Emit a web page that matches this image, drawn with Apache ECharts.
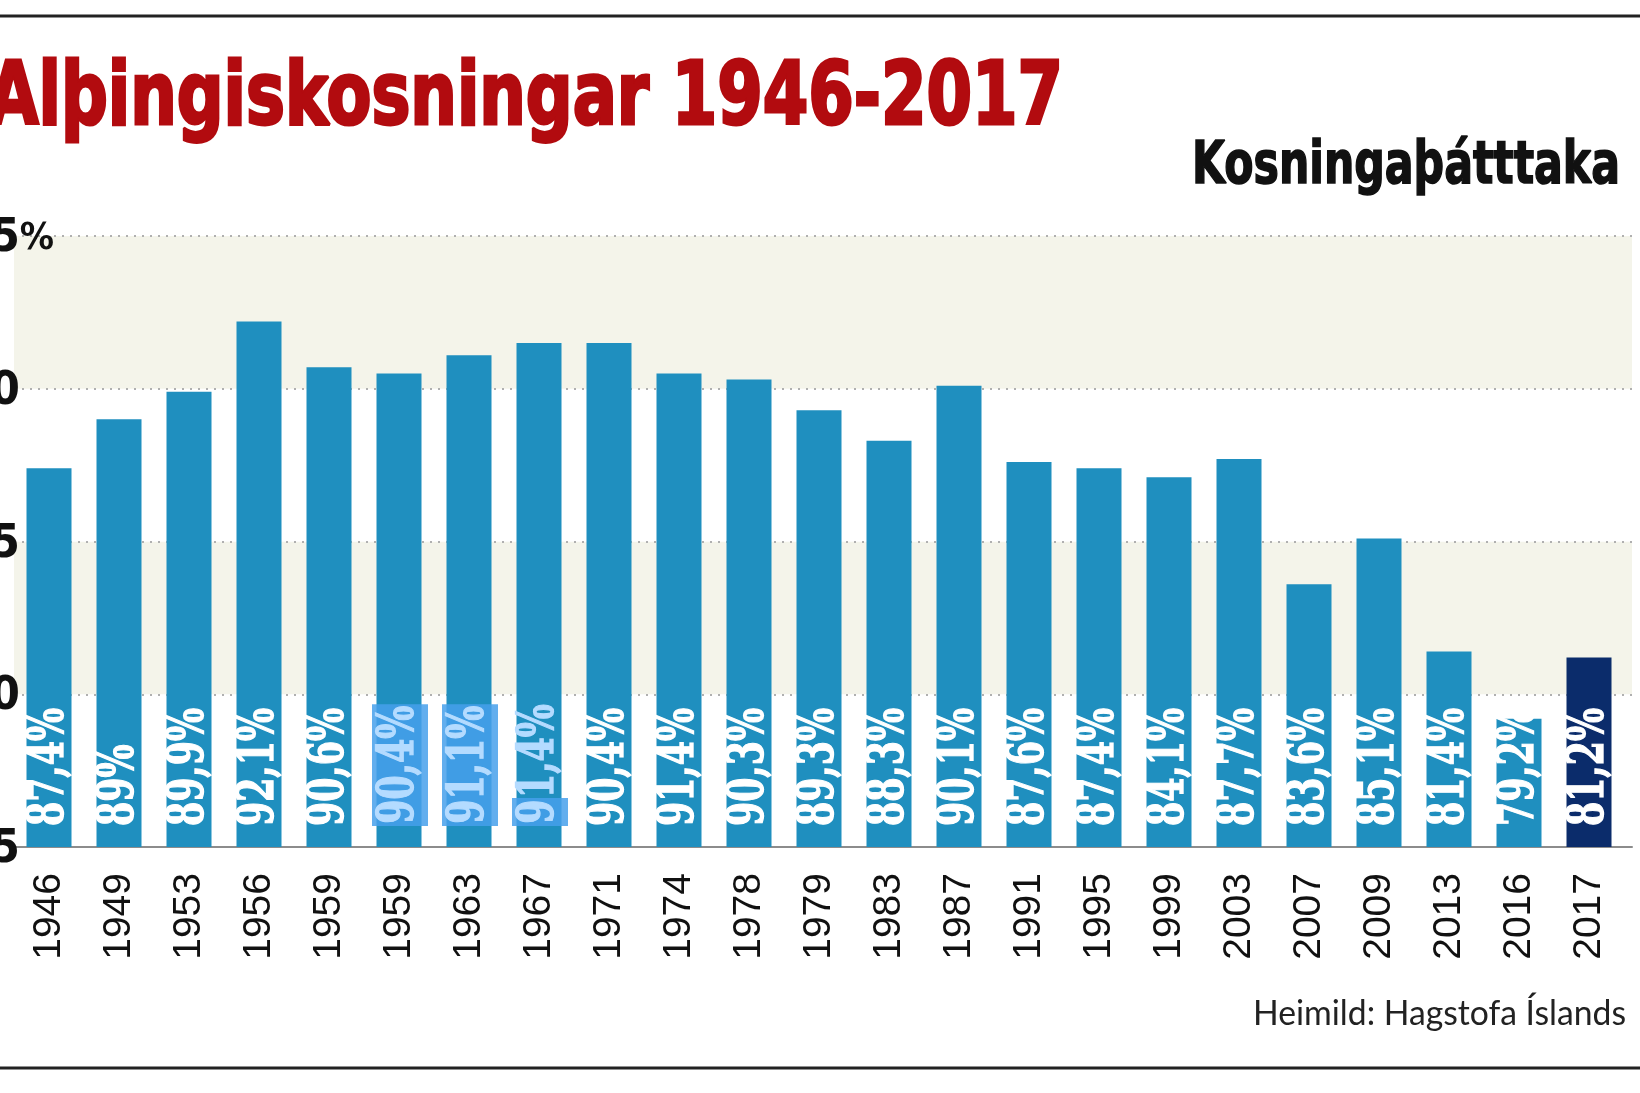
<!DOCTYPE html>
<html>
<head>
<meta charset="utf-8">
<script src="https://cdn.jsdelivr.net/npm/echarts@6/dist/echarts.min.js"></script>
<style>
html,body{margin:0;padding:0;background:#fff;}
#c{width:1640px;height:1093px;}
</style>
</head>
<body>
<div id="c"></div>
<script>
// ---- data ----
var years = ['1946','1949','1953','1956','1959','1959','1963','1967','1971','1974','1978','1979','1983','1987','1991','1995','1999','2003','2007','2009','2013','2016','2017'];
var turnout = [87.4, 89.0, 89.9, 92.2, 90.7, 90.5, 91.1, 91.5, 91.5, 90.5, 90.3, 89.3, 88.3, 90.1, 87.6, 87.4, 87.1, 87.7, 83.6, 85.1, 81.4, 79.2, 81.2];
var valueLabels = ['87,4%','89%','89,9%','92,1%','90,6%','90,4%','91,1%','91,4%','90,4%','91,4%','90,3%','89,3%','88,3%','90,1%','87,6%','87,4%','84,1%','87,7%','83,6%','85,1%','81,4%','79,2%','81,2%'];
var highlighted = [5, 6];      // labels drawn on a blue selection box
var partialHighlight = 7;      // label whose first character sits on the box
var yTicks = {min: 75, max: 95, step: 5};
var titleText = 'Alþingiskosningar 1946-2017';
var subtitleText = 'Kosningaþátttaka';
var sourceText = 'Heimild: Hagstofa Íslands';

// ---- styling ----
var SANS_C = "'DejaVu Sans Condensed','DejaVu Sans',sans-serif";
var SERIF_C = "'DejaVu Serif Condensed','DejaVu Serif',serif";
var BAR = '#1f8fbf', BAR_LAST = '#0b2c6b';
var HL_TEXT = '#b4dbff', HL_BG = 'rgba(70,160,235,0.85)';

var mctx = document.createElement('canvas').getContext('2d');
function textW(text, font) { mctx.font = font; return mctx.measureText(text).width; }

var TITLE_FONT = 'bold 88px ' + SANS_C;
var SUB_FONT = 'bold 58px ' + SANS_C;
var SRC_FONT = '35px Lato,' + SANS_C;
var VAL_FONT = 'bold 50px ' + SERIF_C;
var titleScale = 1075 / textW(titleText, TITLE_FONT);
var subScale = 428 / textW(subtitleText, SUB_FONT);
var srcScale = 373 / textW(sourceText, SRC_FONT);
var valScale = 118 / textW('90,4%', VAL_FONT);

var barData = turnout.map(function (v, i) {
  return {value: v, itemStyle: {color: i === turnout.length - 1 ? BAR_LAST : BAR}};
});

var chart = echarts.init(document.getElementById('c'), null, {renderer: 'canvas'});
chart.setOption({
  backgroundColor: '#ffffff',
  animation: false,
  grid: [
    {left: 14, right: 8, top: 236, bottom: 246, outerBoundsMode: 'none', containLabel: false},
    {left: 14, right: 16, top: 236, bottom: 246, outerBoundsMode: 'none', containLabel: false}
  ],
  xAxis: [
    {gridIndex: 0, type: 'value', min: 0, max: 1, position: 'bottom',
     axisLine: {show: true, onZero: false, lineStyle: {color: '#8c8c8c', width: 2}},
     axisTick: {show: false}, axisLabel: {show: false}, splitLine: {show: false}},
    {gridIndex: 1, type: 'category', data: years,
     axisLine: {show: false}, axisTick: {show: false},
     axisLabel: {rotate: 90, margin: 26, fontSize: 39, fontFamily: "'Liberation Sans',Arial,sans-serif",
       color: '#111', interval: 0, padding: [0, 0, 6, 0]}}
  ],
  yAxis: [
    {gridIndex: 0, type: 'value', min: yTicks.min, max: yTicks.max, interval: yTicks.step,
     axisLine: {show: false}, axisTick: {show: false},
     axisLabel: {align: 'left', margin: 53, color: '#111', padding: [6, 0, 0, 0],
       formatter: function (v) { return v === yTicks.max ? '{n|' + v + '}{p|%}' : '{n|' + v + '}'; },
       rich: {
         n: {fontSize: 47, fontWeight: 'bold', fontFamily: SANS_C, color: '#111'},
         p: {fontSize: 38, fontWeight: 'bold', fontFamily: SANS_C, color: '#111'}
       }},
     splitLine: {show: true, lineStyle: {color: '#b0b0b0', width: 2, type: [2, 6]}},
     splitArea: {show: true, areaStyle: {color: ['#ffffff', '#f4f4ea']}}},
    {gridIndex: 1, type: 'value', min: yTicks.min, max: yTicks.max, interval: yTicks.step, show: false}
  ],
  series: [
    {type: 'bar', xAxisIndex: 1, yAxisIndex: 1, barWidth: 45, data: barData},
    {type: 'custom', xAxisIndex: 1, yAxisIndex: 1, z: 5, silent: true,
     data: turnout.map(function (v, i) { return [i, v]; }),
     renderItem: function (params, api) {
       var i = api.value(0);
       var p = api.coord([i, yTicks.min]);
       var style = {text: valueLabels[i], font: VAL_FONT, fill: '#ffffff', stroke: '#ffffff', lineWidth: 1.3,
                    align: 'left', verticalAlign: 'middle'};
       if (highlighted.indexOf(i) >= 0) {
         style.fill = HL_TEXT; style.stroke = HL_TEXT; style.backgroundColor = HL_BG; style.padding = [3, 2, 3, 3];
       } else if (i === partialHighlight) {
         var s = valueLabels[i];
         style.text = '{hl|' + s.charAt(0) + '}{lt|' + s.slice(1) + '}';
         style.rich = {
           hl: {fill: HL_TEXT, stroke: HL_TEXT, lineWidth: 1.3, backgroundColor: HL_BG, font: VAL_FONT, padding: [3, 2, 3, 3]},
           lt: {fill: HL_TEXT, stroke: HL_TEXT, lineWidth: 1.3, font: VAL_FONT}
         };
       }
       return {type: 'text', x: p[0] + 1, y: p[1] - 21, rotation: Math.PI / 2, scaleX: valScale, style: style};
     }}
  ],
  graphic: [
    {type: 'line', shape: {x1: 0, y1: 16, x2: 1640, y2: 16}, style: {stroke: '#222', lineWidth: 3}},
    {type: 'line', shape: {x1: 0, y1: 1068, x2: 1640, y2: 1068}, style: {stroke: '#222', lineWidth: 3}},
    {type: 'text', x: 1063, y: 101, scaleX: titleScale, style: {text: titleText, font: TITLE_FONT, fill: '#b20b0f',
      stroke: '#b20b0f', lineWidth: 3, align: 'right', verticalAlign: 'middle'}},
    {type: 'text', x: 1620, y: 168, scaleX: subScale, style: {text: subtitleText, font: SUB_FONT, fill: '#111',
      stroke: '#111', lineWidth: 1.5, align: 'right', verticalAlign: 'middle'}},
    {type: 'text', x: 1626, y: 1014, scaleX: srcScale, style: {text: sourceText, font: SRC_FONT, fill: '#222',
      align: 'right', verticalAlign: 'middle'}}
  ]
});
</script>
</body>
</html>
